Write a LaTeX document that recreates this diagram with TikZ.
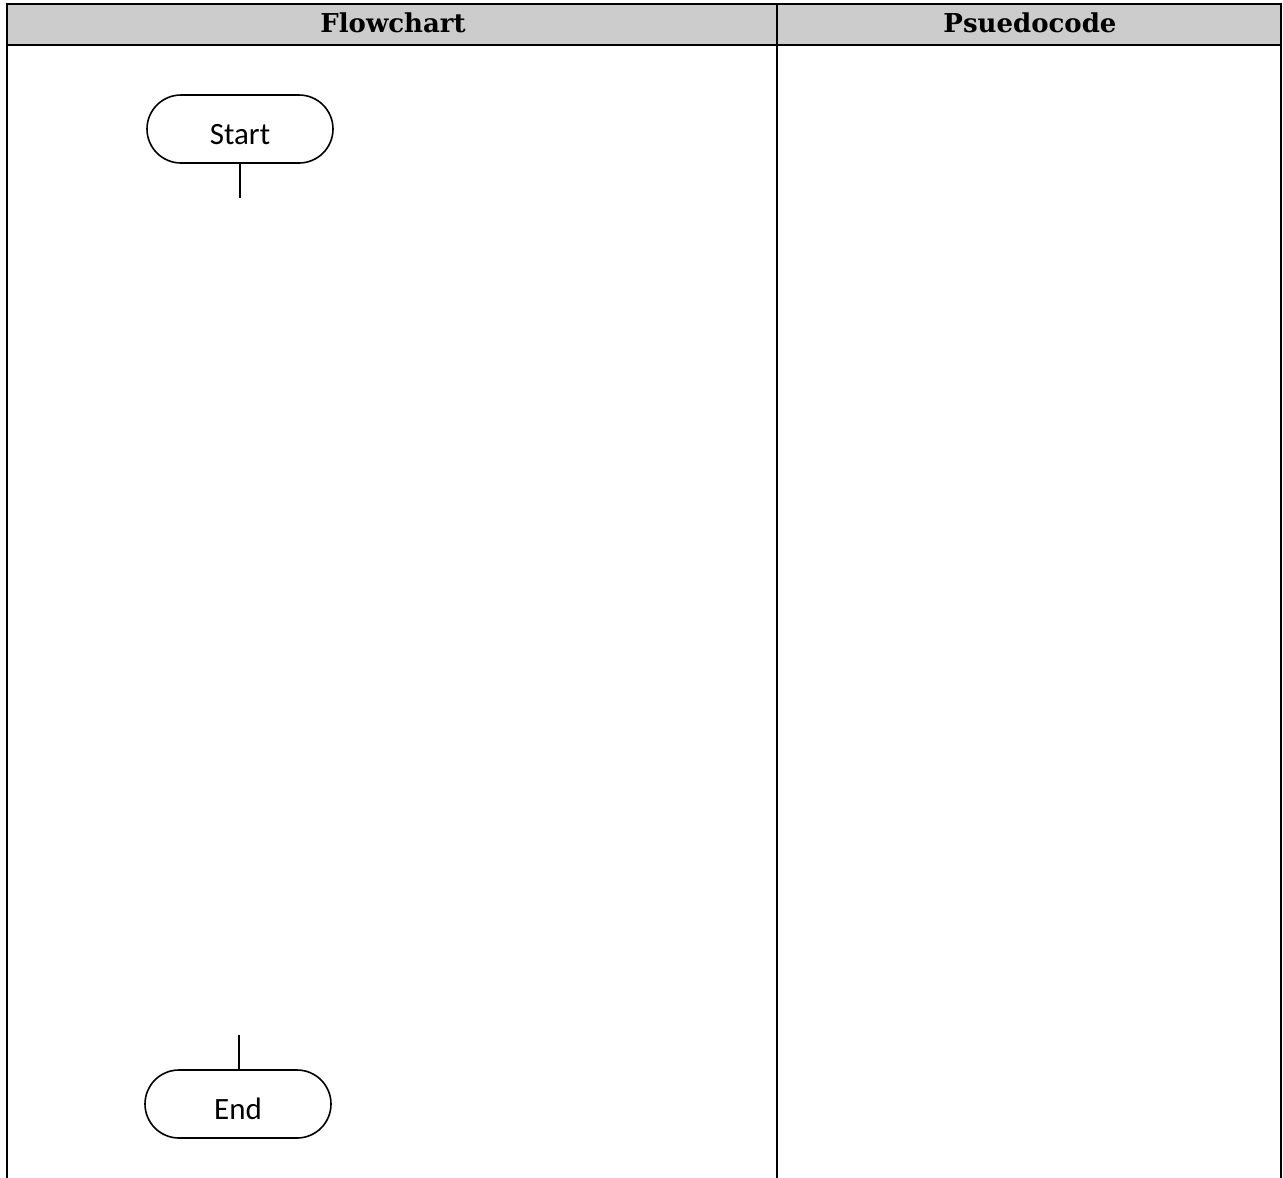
\documentclass[tikz,border=0pt]{standalone}
\usepackage{fontspec}
\setmainfont{Carlito}
\newfontfamily\headfont{DejaVu Serif}
\usetikzlibrary{shapes.misc}
\begin{document}
\begin{tikzpicture}[x=1pt,y=-1pt,
  terminal/.style={draw, line width=1.6pt, rounded rectangle, minimum width=186pt, minimum height=68pt, inner sep=0pt, text height=30pt, text depth=0pt, font=\fontsize{31}{36}\selectfont},
  tableline/.style={line width=2.6pt},
  headtext/.style={font=\headfont\bfseries\fontsize{26}{30}\selectfont, anchor=base}]
\useasboundingbox (0,0) rectangle (1283,1178);
% header
\fill[black!20] (7,4) rectangle (1281,45);
\draw[tableline] (7,4) -- (1281,4);
\draw[tableline] (7,45) -- (1281,45);
\draw[tableline] (7,2.7) -- (7,1178);
\draw[tableline] (777,2.7) -- (777,1178);
\draw[tableline] (1281,2.7) -- (1281,1178);
\node[headtext] (h1) at (393,32.5) {Flowchart};
\node[headtext] (h2) at (1030,32.5) {Psuedocode};
% nodes
\node[terminal] (start) at (240,129) {Start};
\node[terminal] (end) at (238,1104) {End};
\coordinate (s1) at (240,198);
\coordinate (e1) at (239,1035);
\draw[line width=1.6pt] (start.south) -- (s1);
\draw[line width=1.6pt] (e1) -- (e1 |- end.north);
\end{tikzpicture}
\end{document}
